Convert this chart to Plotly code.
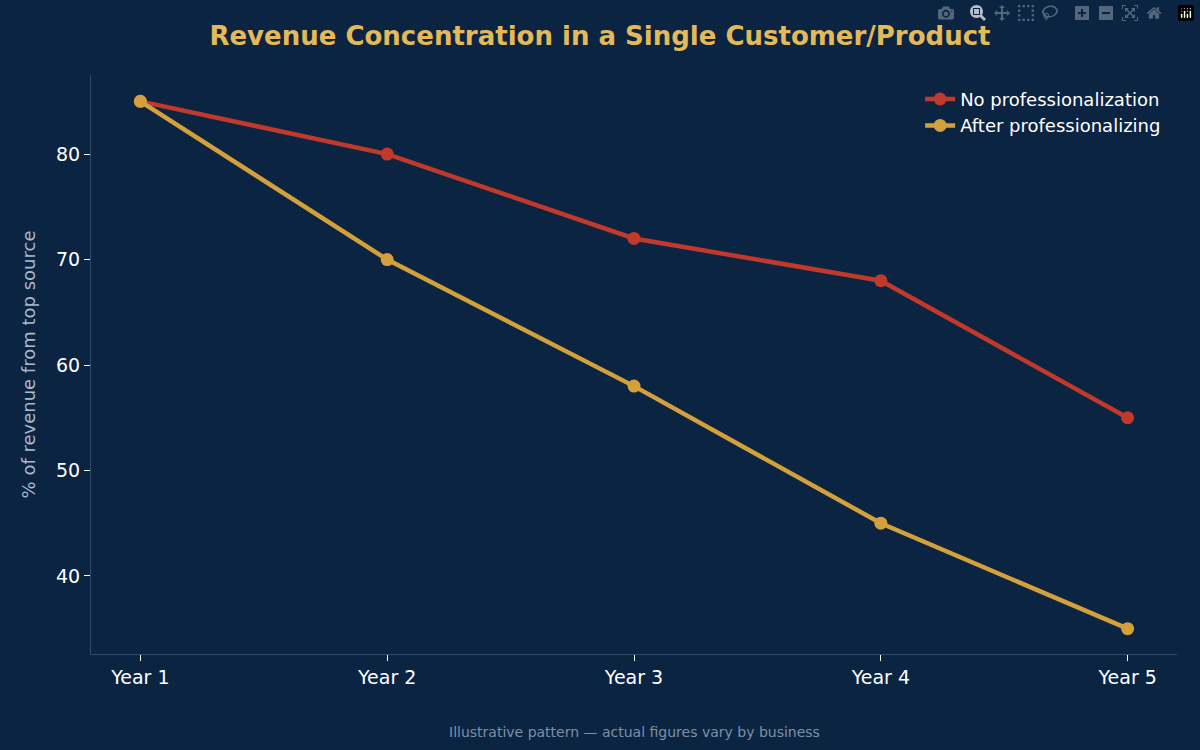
import plotly.graph_objects as go

years = ["Year 1", "Year 2", "Year 3", "Year 4", "Year 5"]
no_prof = [85, 80, 72, 68, 55]
after_prof = [85, 70, 58, 45, 35]

bg = "#0b2442"
fig = go.Figure()
fig.add_trace(go.Scatter(x=list(range(5)), y=no_prof, mode="lines+markers", name="No professionalization",
                         line=dict(color="#c0392b", width=4.5), marker=dict(size=13, color="#c0392b")))
fig.add_trace(go.Scatter(x=list(range(5)), y=after_prof, mode="lines+markers", name="After professionalizing",
                         line=dict(color="#d4a03c", width=4.5), marker=dict(size=13, color="#d4a03c")))
fig.update_layout(
    width=1200, height=750, paper_bgcolor=bg, plot_bgcolor=bg,
    font=dict(family="DejaVu Sans", color="white", size=18),
    margin=dict(l=91, r=23, t=75, b=96),
    title=dict(text="<b>Revenue Concentration in a Single Customer/Product</b>", x=0.5, xanchor="center",
               y=0.952, yanchor="middle", font=dict(size=26, color="#e3b95a")),
    xaxis=dict(range=[-0.2, 4.2], tickvals=list(range(5)), ticktext=years, showgrid=False, zeroline=False,
               showline=True, linecolor="#34496a", ticks="outside", tickcolor="white", ticklen=6,
               tickfont=dict(size=19)),
    yaxis=dict(range=[32.6, 87.5], tickvals=[40, 50, 60, 70, 80], showgrid=False, zeroline=False,
               showline=True, linecolor="#34496a", ticks="outside", tickcolor="white", ticklen=6,
               tickfont=dict(size=19),
               title=dict(text="% of revenue from top source", font=dict(size=18, color="#a9b8cc"))),
    legend=dict(x=0.99, y=0.99, xanchor="right", yanchor="top", bgcolor="rgba(0,0,0,0)",
                font=dict(size=18, color="white")),
    annotations=[dict(text="Illustrative pattern — actual figures vary by business", xref="paper", yref="paper",
                      x=0.5, y=-0.135, xanchor="center", yanchor="middle", showarrow=False,
                      font=dict(size=14, color="#7f8fa6"))],
)
fig.write_html("out.html")
with open("out.html", encoding="utf-8") as f:
    html = f.read()
html = html.replace("<body>", '<body style="margin:0;background:#0b2442">', 1)
with open("out.html", "w", encoding="utf-8") as f:
    f.write(html)
